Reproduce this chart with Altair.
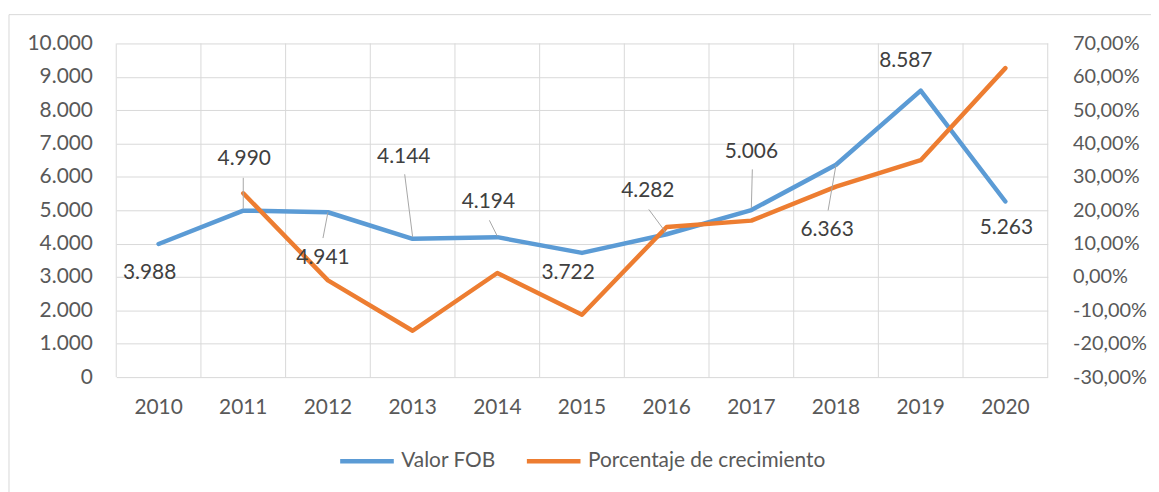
import altair as alt
import pandas as pd

# ---- data ----
years = [2010, 2011, 2012, 2013, 2014, 2015, 2016, 2017, 2018, 2019, 2020]
year_labels = [str(y) for y in years]
fob = [3988, 4990, 4941, 4144, 4194, 3722, 4282, 5006, 6363, 8587, 5263]
growth_years = [2011, 2012, 2013, 2014, 2015, 2016, 2017, 2018, 2019, 2020]
growth = [0.251, -0.010, -0.161, 0.012, -0.113, 0.150, 0.169, 0.271, 0.350, 0.626]
series_names = ["Valor FOB", "Porcentaje de crecimiento"]
series_colors = ["#5B9BD5", "#ED7D31"]

# ---- label placement (pixel offsets of each data label from its point) ----
label_dx = [-9, 1, -5, -9, -9, -14, -19, 0, -9, -15, 1]
label_dy = [29, -52, 46, -82, -35, 20, -43, -58, 66, -30, 27]
lead_x1 = [None, 0, -5, -8, -8, None, -18, 1, -8, None, None]
lead_y1 = [None, -33, 26, -65, -17, None, -25, -41, 46, None, None]
lead_x2 = [None, 0, 0, 0, 0, None, -1, 0, 0, None, None]
lead_y2 = [None, -2, 0, -2, -1, None, -2, -2, 0, None, None]

W, H = 938, 336
PX_YEAR = W / 11.0
PX_UNIT = H / 10000.0
FONT = "Lato"
FS = 21
AXIS_COLOR = "#595959"

fob_df = pd.DataFrame({"year": years, "fob": fob, "series": series_names[0]})
gr_df = pd.DataFrame({"year": growth_years, "growth": growth, "series": series_names[1]})
lab_df = pd.DataFrame({
    "year": years, "fob": fob,
    "label": [f"{v:,}".replace(",", ".") for v in fob],
    "dx": label_dx, "dy": label_dy,
    "x1": lead_x1, "y1": lead_y1, "x2": lead_x2, "y2": lead_y2,
})
xlab_df = pd.DataFrame({"year": years, "txt": year_labels})
bounds_df = pd.DataFrame({"b": [y - 0.5 for y in years] + [years[-1] + 0.5]})

xscale = alt.Scale(domain=[years[0] - 0.5, years[-1] + 0.5], nice=False, zero=False)
yscale = alt.Scale(domain=[0, 10000], nice=False, zero=False)
rscale = alt.Scale(domain=[-0.3, 0.7], nice=False, zero=False)
cscale = alt.Scale(domain=series_names, range=series_colors)

frame = alt.Chart(pd.DataFrame({"a": [0]})).mark_rect(
    fill="transparent", stroke="#D9D9D9", strokeWidth=1
).encode(x=alt.value(-108), y=alt.value(-29), x2=alt.value(1200), y2=alt.value(700))

vgrid = alt.Chart(bounds_df).mark_rule(color="#D9D9D9", strokeWidth=1).encode(
    x=alt.X("b:Q", scale=xscale, axis=None)
)

xlabels = alt.Chart(xlab_df).mark_text(
    font=FONT, fontSize=FS, color=AXIS_COLOR, align="center", baseline="middle"
).encode(
    x=alt.X("year:Q", scale=xscale, axis=None),
    y=alt.value(H + 31),
    text="txt:N",
)

blue = alt.Chart(fob_df).mark_line(strokeWidth=4.5, strokeCap="round", strokeJoin="round").encode(
    x=alt.X("year:Q", scale=xscale, axis=None),
    y=alt.Y("fob:Q", scale=yscale,
            axis=alt.Axis(values=list(range(0, 10001, 1000)), title=None, domain=False,
                          ticks=False, tickSize=0, labelPadding=24, grid=True,
                          gridColor="#D9D9D9", gridWidth=1, labelFont=FONT,
                          labelFontSize=FS, labelColor=AXIS_COLOR,
                          labelExpr="replace(format(datum.value, ','), ',', '.')")),
    color=alt.Color("series:N", scale=cscale, sort=series_names,
                    legend=alt.Legend(title=None, orient="none", legendX=223, legendY=391,
                                      direction="horizontal", symbolType="stroke",
                                      symbolStrokeWidth=4.5, symbolSize=2916, labelOffset=5,
                                      columnPadding=21, labelFont=FONT, labelFontSize=FS,
                                      labelColor=AXIS_COLOR, labelLimit=600)),
)

orange = alt.Chart(gr_df).mark_line(strokeWidth=4.5, strokeCap="round", strokeJoin="round").encode(
    x=alt.X("year:Q", scale=xscale, axis=None),
    y=alt.Y("growth:Q", scale=rscale,
            axis=alt.Axis(orient="right", values=[-0.3 + 0.1 * i for i in range(11)], title=None,
                          domain=False, ticks=False, tickSize=0, labelPadding=25, grid=False,
                          labelFont=FONT, labelFontSize=20, labelColor=AXIS_COLOR,
                          labelExpr="replace(replace(format(datum.value, '.2%'), '.', ','), '\u2212', '-')")),
    color=alt.Color("series:N", scale=cscale, sort=series_names),
)

leaders = alt.Chart(lab_df).transform_filter("isValid(datum.x1)").transform_calculate(
    lx1=f"datum.year + datum.x1 / {PX_YEAR}",
    ly1=f"datum.fob - datum.y1 / {PX_UNIT}",
    lx2=f"datum.year + datum.x2 / {PX_YEAR}",
    ly2=f"datum.fob - datum.y2 / {PX_UNIT}",
).mark_rule(color="#A6A6A6", strokeWidth=1).encode(
    x=alt.X("lx1:Q", scale=xscale, axis=None),
    y=alt.Y("ly1:Q", scale=yscale, axis=None),
    x2="lx2:Q",
    y2="ly2:Q",
)

labels = alt.Chart(lab_df).transform_calculate(
    lx=f"datum.year + datum.dx / {PX_YEAR}",
    ly=f"datum.fob - datum.dy / {PX_UNIT}",
).mark_text(font=FONT, fontSize=FS, color="#404040", align="center", baseline="middle").encode(
    x=alt.X("lx:Q", scale=xscale, axis=None),
    y=alt.Y("ly:Q", scale=yscale, axis=None),
    text="label:N",
)

chart = alt.layer(frame, vgrid, xlabels, blue, orange, leaders, labels).resolve_scale(
    y="independent"
).properties(
    width=W, height=H,
    autosize=alt.AutoSizeParams(type="none"),
    padding={"left": 109, "top": 34, "right": 104, "bottom": 114},
).configure_view(stroke=None)

chart.save("out.html", embed_options={"renderer": "svg", "actions": False})
